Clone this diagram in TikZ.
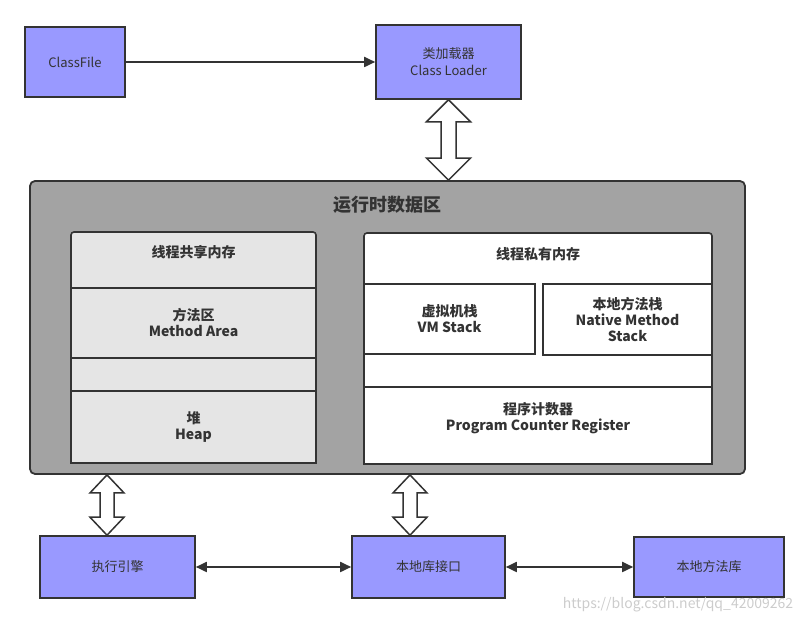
\documentclass[tikz,border=0pt]{standalone}
\usepackage{fontspec}
\setmainfont{Noto Sans CJK SC}
\usetikzlibrary{arrows.meta,positioning,calc}

\definecolor{boxblue}{HTML}{9999FF}
\definecolor{areagray}{HTML}{A3A3A3}
\definecolor{sharegray}{HTML}{E5E5E5}
\definecolor{edge}{HTML}{333333}

\tikzset{
    unit/.style={draw=edge, line width=1.6pt, fill=boxblue, text=edge, align=center,
        font=\fontsize{13}{17}\selectfont},
    area/.style={draw=edge, line width=1.8pt, fill=areagray, rounded corners=5pt},
    panel/.style={draw=edge, line width=1.6pt, rounded corners=3pt},
    paneltext/.style={text=edge, align=center, font=\bfseries\fontsize{14}{16}\selectfont},
    row/.style={draw=edge, line width=1.6pt, paneltext},
    link/.style={draw=edge, line width=1.8pt},
    hollow/.style={draw=edge, fill=white, line width=1.5pt, line join=miter},
    tip/.tip={Triangle[length=11pt, width=10pt]}
}

% two-way hollow arrow: from, to, head half width, shaft half width, head length
\newcommand{\hollowlink}[5]{%
    \draw[hollow] let \p1=(#1), \p2=(#2) in
        (\x1,\y1) -- (\x1+#3,\y1-#5) -- (\x1+#4,\y1-#5) -- (\x1+#4,\y2+#5)
        -- (\x1+#3,\y2+#5) -- (\x1,\y2) -- (\x1-#3,\y2+#5) -- (\x1-#4,\y2+#5)
        -- (\x1-#4,\y1-#5) -- (\x1-#3,\y1-#5) -- cycle;}

\begin{document}
\begin{tikzpicture}[x=1pt, y=1pt]
    \useasboundingbox (0,0) rectangle (809,623);

    % Class loading
    \node[unit, minimum width=100pt, minimum height=70pt] (cf) at (75,561) {ClassFile};
    \node[unit, minimum width=145pt, minimum height=74pt] (cl) at (448.5,561) {类加载器\\Class Loader};
    \draw[link, -tip] (cf) -- (cl);

    % Runtime data area
    \node[area, minimum width=715pt, minimum height=293pt] (rda) at (387.5,295.5) {};
    \node[text=edge, font=\bfseries\fontsize{18}{20}\selectfont] (rdatitle) at (387.5,418) {运行时数据区};
    \hollowlink{cl.south}{rda.north}{22pt}{7.5pt}{22pt}

    % Shared memory
    \node[panel, fill=sharegray, minimum width=245pt, minimum height=231pt] (shared) at (193.5,275.5) {};
    \node[paneltext] (sharedtitle) at (193.5,371) {线程共享内存};
    \node[row, fill=sharegray, minimum width=245pt, minimum height=70pt] (method) at (193.5,300) {方法区\\Method Area};
    \node[row, fill=sharegray, minimum width=245pt, minimum height=72pt] (heap) at (193.5,196) {堆\\Heap};

    % Private memory
    \node[panel, fill=white, minimum width=348pt, minimum height=231pt] (private) at (538,274.5) {};
    \node[paneltext] (privatetitle) at (538,369) {线程私有内存};
    \node[row, fill=white, minimum width=171pt, minimum height=70pt] (vm) at (449.5,304) {虚拟机栈\\VM Stack};
    \node[row, fill=white, minimum width=169pt, minimum height=71pt] (native) at (627.5,303.5) {本地方法栈\\Native Method\\Stack};
    \node[row, fill=white, minimum width=348pt, minimum height=77pt] (pcr) at (538,197.5) {};
    \node[paneltext] (pcrtext) at ([yshift=7pt]pcr.center) {程序计数器\\Program Counter Register};

    % Execution and native side
    \node[unit, minimum width=155pt, minimum height=62pt] (eng) at (117.5,56) {执行引擎};
    \node[unit, minimum width=153pt, minimum height=62pt] (nli) at (428.5,56) {本地库接口};
    \node[unit, minimum width=150pt, minimum height=60pt] (nml) at (709,56) {本地方法库};
    \coordinate (engx) at (107,0);
    \coordinate (nlix) at (410,0);
    \hollowlink{rda.south -| engx}{eng.north -| engx}{17pt}{7pt}{18pt}
    \hollowlink{rda.south -| nlix}{nli.north -| nlix}{17pt}{7pt}{18pt}
    \draw[link, tip-tip] (eng) -- (nli);
    \draw[link, tip-tip] (nli) -- (nml);

    \node[text=gray!40, font=\fontsize{14}{16}\selectfont] (mark) at (678,18) {https://blog.csdn.net/qq\_42009262};
\end{tikzpicture}
\end{document}
